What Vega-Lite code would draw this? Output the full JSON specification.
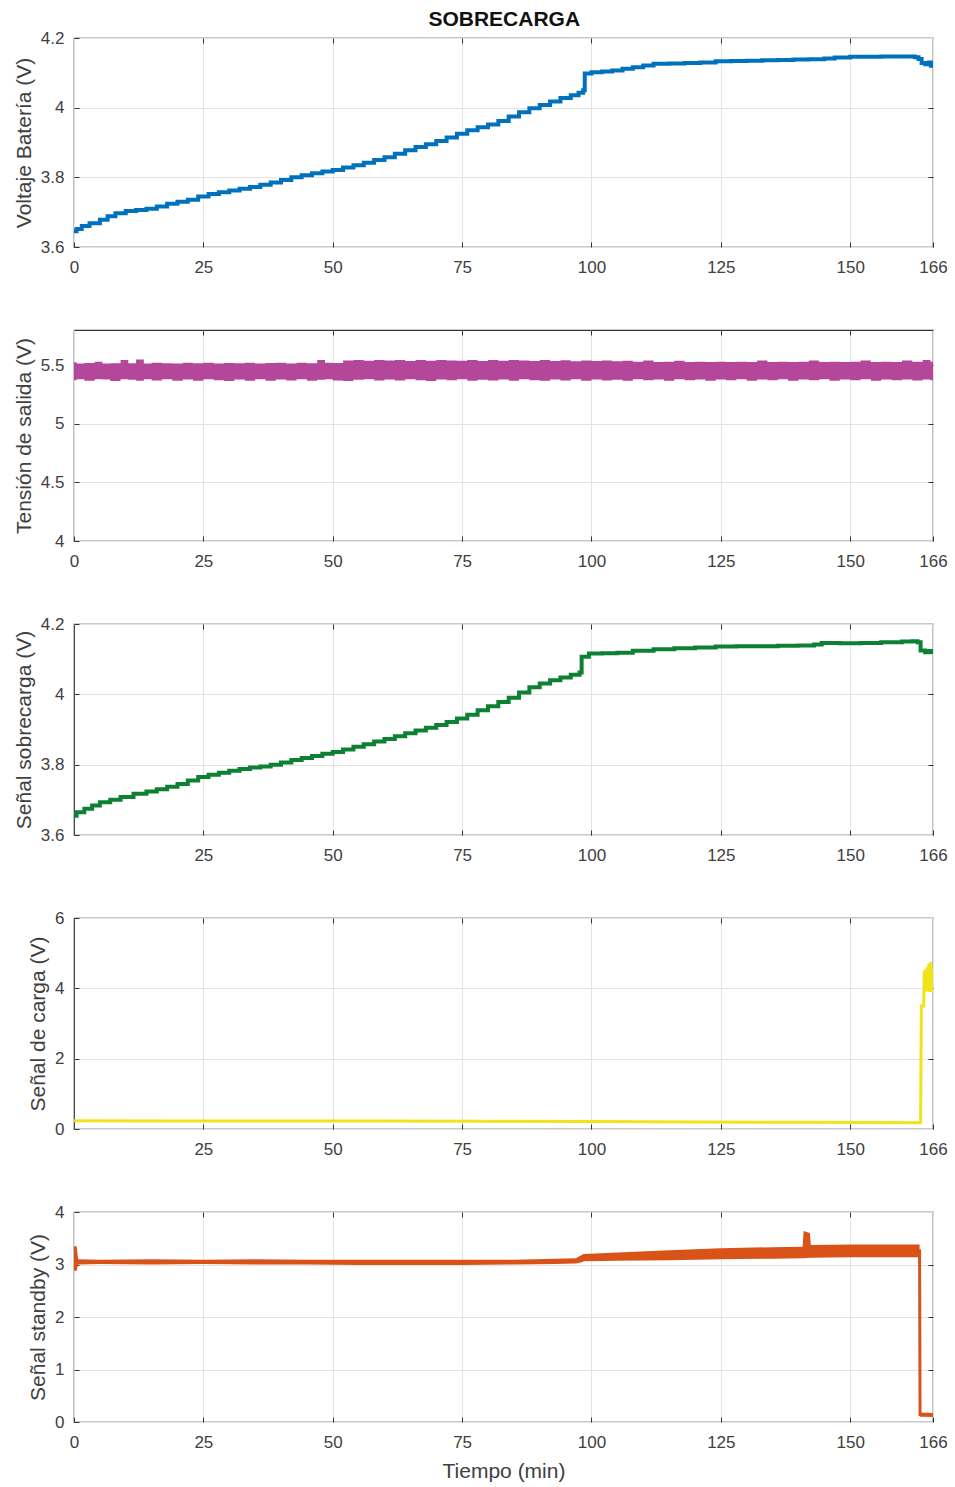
{
  "$schema": "https://vega.github.io/schema/vega-lite/v6.json",
  "padding": {"left": 12, "top": 9, "right": 5, "bottom": 5},
  "background": "white",
  "title": {"text": "SOBRECARGA", "fontSize": 21, "font": "Liberation Sans", "fontWeight": "bold", "anchor": "middle", "offset": -2, "dx": 24, "color": "#111111"},
  "config": {
    "view": {"stroke": "#333333", "strokeWidth": 1.2},
    "axis": {"labelFont": "Liberation Sans", "labelFontSize": 17, "labelColor": "#404040", "labelFlush": false, "titleFont": "Liberation Sans", "titleFontSize": 21, "titleFontWeight": "normal", "titleColor": "#404040", "gridColor": "#e3e3e3", "gridWidth": 1, "domain": false, "tickColor": "#333333", "tickSize": -5, "tickWidth": 1, "titlePadding": 6},
    "axisX": {"labelPadding": 17},
    "axisY": {"labelPadding": 15}
  },
  "datasets": {
    "bat": [
      {"t":0,"v":3.645},{"t":0.5,"v":3.652},{"t":1.5,"v":3.66},{"t":3,"v":3.668},{"t":5,"v":3.678},{"t":6.5,"v":3.688},{"t":8,"v":3.697},{"t":10,"v":3.703},{"t":12,"v":3.706},{"t":14,"v":3.71},{"t":16,"v":3.716},{"t":18,"v":3.724},{"t":20,"v":3.73},{"t":22,"v":3.736},{"t":24,"v":3.745},{"t":26,"v":3.752},{"t":28,"v":3.757},{"t":30,"v":3.762},{"t":32,"v":3.767},{"t":34,"v":3.772},{"t":36,"v":3.779},{"t":38,"v":3.785},{"t":40,"v":3.792},{"t":42,"v":3.8},{"t":44,"v":3.806},{"t":46,"v":3.812},{"t":48,"v":3.817},{"t":50,"v":3.821},{"t":52,"v":3.828},{"t":54,"v":3.835},{"t":56,"v":3.842},{"t":58,"v":3.85},{"t":60,"v":3.858},{"t":62,"v":3.868},{"t":64,"v":3.878},{"t":66,"v":3.887},{"t":68,"v":3.895},{"t":70,"v":3.904},{"t":72,"v":3.914},{"t":74,"v":3.925},{"t":76,"v":3.935},{"t":78,"v":3.944},{"t":80,"v":3.952},{"t":82,"v":3.962},{"t":84,"v":3.975},{"t":86,"v":3.987},{"t":88,"v":3.998},{"t":90,"v":4.008},{"t":92,"v":4.018},{"t":94,"v":4.028},{"t":96,"v":4.036},{"t":97.5,"v":4.043},{"t":98.4,"v":4.05},{"t":98.7,"v":4.098},{"t":100,"v":4.102},{"t":102,"v":4.104},{"t":104,"v":4.107},{"t":106,"v":4.112},{"t":108,"v":4.116},{"t":110,"v":4.121},{"t":112,"v":4.126},{"t":115,"v":4.127},{"t":118,"v":4.128},{"t":121,"v":4.13},{"t":124,"v":4.133},{"t":127,"v":4.134},{"t":130,"v":4.135},{"t":133,"v":4.136},{"t":136,"v":4.137},{"t":139,"v":4.138},{"t":142,"v":4.139},{"t":145,"v":4.141},{"t":147,"v":4.144},{"t":150,"v":4.146},{"t":153,"v":4.146},{"t":156,"v":4.147},{"t":159,"v":4.147},{"t":161,"v":4.147},{"t":162.5,"v":4.145},{"t":163.2,"v":4.14},{"t":163.8,"v":4.128},{"t":164.5,"v":4.125},{"t":165.2,"v":4.13},{"t":165.6,"v":4.12},{"t":166,"v":4.125}
    ],
    "out": [
      {"t":0,"lo":5.372,"hi":5.525},{"t":1,"lo":5.38,"hi":5.515},{"t":3,"lo":5.368,"hi":5.518},{"t":5,"lo":5.38,"hi":5.53},{"t":6,"lo":5.378,"hi":5.515},{"t":8,"lo":5.365,"hi":5.516},{"t":10,"lo":5.38,"hi":5.545},{"t":11,"lo":5.376,"hi":5.516},{"t":13,"lo":5.366,"hi":5.548},{"t":14,"lo":5.38,"hi":5.515},{"t":16,"lo":5.37,"hi":5.52},{"t":18,"lo":5.38,"hi":5.517},{"t":20,"lo":5.368,"hi":5.515},{"t":22,"lo":5.378,"hi":5.52},{"t":24,"lo":5.366,"hi":5.516},{"t":26,"lo":5.38,"hi":5.52},{"t":28,"lo":5.372,"hi":5.515},{"t":30,"lo":5.365,"hi":5.518},{"t":32,"lo":5.378,"hi":5.516},{"t":34,"lo":5.368,"hi":5.52},{"t":36,"lo":5.38,"hi":5.515},{"t":38,"lo":5.366,"hi":5.518},{"t":40,"lo":5.378,"hi":5.52},{"t":42,"lo":5.37,"hi":5.515},{"t":44,"lo":5.38,"hi":5.52},{"t":46,"lo":5.366,"hi":5.517},{"t":48,"lo":5.376,"hi":5.545},{"t":49,"lo":5.38,"hi":5.52},{"t":51,"lo":5.37,"hi":5.518},{"t":53,"lo":5.365,"hi":5.54},{"t":55,"lo":5.376,"hi":5.545},{"t":57,"lo":5.38,"hi":5.538},{"t":59,"lo":5.37,"hi":5.545},{"t":61,"lo":5.378,"hi":5.54},{"t":63,"lo":5.37,"hi":5.545},{"t":65,"lo":5.38,"hi":5.535},{"t":67,"lo":5.372,"hi":5.545},{"t":69,"lo":5.365,"hi":5.538},{"t":71,"lo":5.378,"hi":5.545},{"t":73,"lo":5.372,"hi":5.54},{"t":75,"lo":5.38,"hi":5.538},{"t":77,"lo":5.366,"hi":5.545},{"t":79,"lo":5.376,"hi":5.535},{"t":81,"lo":5.37,"hi":5.545},{"t":83,"lo":5.378,"hi":5.538},{"t":85,"lo":5.366,"hi":5.545},{"t":87,"lo":5.38,"hi":5.54},{"t":89,"lo":5.372,"hi":5.536},{"t":91,"lo":5.366,"hi":5.545},{"t":93,"lo":5.378,"hi":5.536},{"t":95,"lo":5.37,"hi":5.542},{"t":97,"lo":5.38,"hi":5.534},{"t":99,"lo":5.366,"hi":5.54},{"t":101,"lo":5.378,"hi":5.535},{"t":103,"lo":5.37,"hi":5.54},{"t":105,"lo":5.376,"hi":5.533},{"t":107,"lo":5.366,"hi":5.538},{"t":109,"lo":5.38,"hi":5.53},{"t":111,"lo":5.372,"hi":5.54},{"t":113,"lo":5.378,"hi":5.528},{"t":115,"lo":5.366,"hi":5.53},{"t":117,"lo":5.38,"hi":5.538},{"t":119,"lo":5.372,"hi":5.528},{"t":121,"lo":5.378,"hi":5.53},{"t":123,"lo":5.368,"hi":5.528},{"t":125,"lo":5.378,"hi":5.53},{"t":127,"lo":5.372,"hi":5.528},{"t":129,"lo":5.38,"hi":5.53},{"t":131,"lo":5.366,"hi":5.528},{"t":133,"lo":5.378,"hi":5.54},{"t":135,"lo":5.372,"hi":5.528},{"t":137,"lo":5.38,"hi":5.53},{"t":139,"lo":5.368,"hi":5.528},{"t":141,"lo":5.378,"hi":5.53},{"t":143,"lo":5.372,"hi":5.54},{"t":145,"lo":5.38,"hi":5.528},{"t":147,"lo":5.366,"hi":5.53},{"t":149,"lo":5.378,"hi":5.528},{"t":151,"lo":5.372,"hi":5.53},{"t":153,"lo":5.38,"hi":5.54},{"t":155,"lo":5.368,"hi":5.528},{"t":157,"lo":5.378,"hi":5.53},{"t":159,"lo":5.372,"hi":5.528},{"t":161,"lo":5.378,"hi":5.54},{"t":163,"lo":5.37,"hi":5.53},{"t":165,"lo":5.378,"hi":5.545},{"t":166,"lo":5.372,"hi":5.53}
    ],
    "sob": [
      {"t":0,"v":3.655},{"t":0.5,"v":3.665},{"t":2,"v":3.675},{"t":3.5,"v":3.684},{"t":5,"v":3.693},{"t":7,"v":3.7},{"t":9,"v":3.708},{"t":11.5,"v":3.717},{"t":14,"v":3.724},{"t":16,"v":3.73},{"t":18,"v":3.737},{"t":20,"v":3.745},{"t":22,"v":3.755},{"t":24,"v":3.765},{"t":26,"v":3.771},{"t":28,"v":3.777},{"t":30,"v":3.783},{"t":32,"v":3.788},{"t":34,"v":3.792},{"t":36,"v":3.795},{"t":38,"v":3.8},{"t":40,"v":3.806},{"t":42,"v":3.813},{"t":44,"v":3.819},{"t":46,"v":3.825},{"t":48,"v":3.831},{"t":50,"v":3.836},{"t":52,"v":3.843},{"t":54,"v":3.851},{"t":56,"v":3.858},{"t":58,"v":3.866},{"t":60,"v":3.873},{"t":62,"v":3.881},{"t":64,"v":3.889},{"t":66,"v":3.897},{"t":68,"v":3.905},{"t":70,"v":3.913},{"t":72,"v":3.921},{"t":74,"v":3.931},{"t":76,"v":3.942},{"t":78,"v":3.955},{"t":80,"v":3.966},{"t":82,"v":3.978},{"t":84,"v":3.99},{"t":86,"v":4.005},{"t":88,"v":4.02},{"t":90,"v":4.031},{"t":92,"v":4.04},{"t":94,"v":4.048},{"t":96,"v":4.056},{"t":97.7,"v":4.062},{"t":98.1,"v":4.107},{"t":99.5,"v":4.116},{"t":102,"v":4.117},{"t":105,"v":4.118},{"t":108,"v":4.124},{"t":112,"v":4.128},{"t":116,"v":4.131},{"t":120,"v":4.133},{"t":124,"v":4.136},{"t":128,"v":4.137},{"t":132,"v":4.137},{"t":136,"v":4.138},{"t":140,"v":4.139},{"t":143,"v":4.142},{"t":144.5,"v":4.146},{"t":148,"v":4.145},{"t":152,"v":4.146},{"t":156,"v":4.148},{"t":160,"v":4.15},{"t":162,"v":4.151},{"t":163,"v":4.148},{"t":163.6,"v":4.125},{"t":164.5,"v":4.12},{"t":165.3,"v":4.123},{"t":166,"v":4.115}
    ],
    "carga": [
      {"t":0,"v":0.235},{"t":20,"v":0.23},{"t":40,"v":0.23},{"t":60,"v":0.225},{"t":80,"v":0.22},{"t":100,"v":0.21},{"t":120,"v":0.2},{"t":140,"v":0.19},{"t":163.6,"v":0.18},{"t":163.75,"v":3.5},{"t":164.2,"v":3.5},{"t":164.3,"v":4.5},{"t":164.45,"v":3.9},{"t":164.6,"v":4.55},{"t":164.75,"v":3.92},{"t":164.9,"v":4.6},{"t":165.05,"v":3.95},{"t":165.2,"v":4.7},{"t":165.35,"v":3.9},{"t":165.5,"v":4.75},{"t":165.65,"v":3.95},{"t":165.8,"v":4.6},{"t":165.95,"v":3.9},{"t":166,"v":4.5}
    ],
    "stby": [
      {"t":0,"lo":2.88,"hi":3.35,"v":3.1},{"t":0.5,"lo":2.88,"hi":3.35,"v":3.05},{"t":0.8,"lo":3.0,"hi":3.1,"v":3.05},{"t":5,"lo":3.01,"hi":3.09,"v":3.05},{"t":15,"lo":3.0,"hi":3.1,"v":3.05},{"t":25,"lo":3.01,"hi":3.09,"v":3.05},{"t":35,"lo":3.0,"hi":3.1,"v":3.05},{"t":45,"lo":3.0,"hi":3.09,"v":3.045},{"t":55,"lo":2.99,"hi":3.09,"v":3.04},{"t":65,"lo":2.99,"hi":3.09,"v":3.04},{"t":75,"lo":2.99,"hi":3.09,"v":3.04},{"t":85,"lo":3.0,"hi":3.09,"v":3.045},{"t":93,"lo":3.01,"hi":3.11,"v":3.06},{"t":97,"lo":3.02,"hi":3.12,"v":3.07},{"t":98.3,"lo":3.05,"hi":3.19,"v":3.12},{"t":98.5,"lo":3.06,"hi":3.2,"v":3.13},{"t":105,"lo":3.07,"hi":3.23,"v":3.15},{"t":115,"lo":3.08,"hi":3.27,"v":3.17},{"t":125,"lo":3.1,"hi":3.31,"v":3.2},{"t":135,"lo":3.11,"hi":3.33,"v":3.22},{"t":140.8,"lo":3.12,"hi":3.34,"v":3.23},{"t":141,"lo":3.12,"hi":3.64,"v":3.23},{"t":142.2,"lo":3.13,"hi":3.6,"v":3.24},{"t":142.4,"lo":3.13,"hi":3.37,"v":3.24},{"t":150,"lo":3.14,"hi":3.38,"v":3.26},{"t":158,"lo":3.14,"hi":3.38,"v":3.26},{"t":163.4,"lo":3.14,"hi":3.38,"v":3.26},{"t":163.5,"lo":0.1,"hi":0.18,"v":0.14},{"t":166,"lo":0.1,"hi":0.17,"v":0.13}
    ]
  },
  "vconcat": [
    {
      "width": 859, "height": 209,
      "data": {"name": "bat"},
      "layer": [
        {"mark": {"type": "line", "color": "#0072BD", "strokeWidth": 4, "interpolate": "step-after", "clip": true},
         "encoding": {
           "x": {"field": "t", "type": "quantitative", "scale": {"domain": [0, 166], "nice": false, "zero": false}, "axis": {"values": [0,25,50,75,100,125,150,166], "title": null}},
           "y": {"field": "v", "type": "quantitative", "scale": {"domain": [3.6, 4.2], "nice": false, "zero": false}, "axis": {"values": [3.6,3.8,4,4.2], "format": "~g", "title": "Voltaje Batería (V)"}}
         }},
        {"mark": {"type": "line", "opacity": 0},
         "encoding": {
           "x": {"field": "t", "type": "quantitative", "axis": {"orient": "top", "values": [25,50,75,100,125,150], "labels": false, "grid": false, "title": null}},
           "y": {"field": "v", "type": "quantitative", "axis": {"orient": "right", "values": [3.8,4], "labels": false, "grid": false, "title": null}}
         }}
      ],
      "resolve": {"axis": {"x": "independent", "y": "independent"}}
    },
    {
      "width": 859, "height": 211,
      "data": {"name": "out"},
      "layer": [
        {"mark": {"type": "area", "color": "#B4479A", "interpolate": "step", "clip": true},
         "encoding": {
           "x": {"field": "t", "type": "quantitative", "scale": {"domain": [0, 166], "nice": false, "zero": false}, "axis": {"values": [0,25,50,75,100,125,150,166], "title": null}},
           "y": {"field": "hi", "type": "quantitative", "scale": {"domain": [4, 5.8], "nice": false, "zero": false}, "axis": {"values": [4,4.5,5,5.5], "format": "~g", "title": "Tensión de salida (V)"}},
           "y2": {"field": "lo"}
         }},
        {"mark": {"type": "line", "opacity": 0},
         "encoding": {
           "x": {"field": "t", "type": "quantitative", "axis": {"orient": "top", "values": [25,50,75,100,125,150], "labels": false, "grid": false, "title": null}},
           "y": {"field": "hi", "type": "quantitative", "axis": {"orient": "right", "values": [4.5,5,5.5], "labels": false, "grid": false, "title": null}}
         }}
      ],
      "resolve": {"axis": {"x": "independent", "y": "independent"}}
    },
    {
      "width": 859, "height": 211,
      "data": {"name": "sob"},
      "layer": [
        {"mark": {"type": "line", "color": "#0E8034", "strokeWidth": 4, "interpolate": "step-after", "clip": true},
         "encoding": {
           "x": {"field": "t", "type": "quantitative", "scale": {"domain": [0, 166], "nice": false, "zero": false}, "axis": {"values": [25,50,75,100,125,150,166], "title": null}},
           "y": {"field": "v", "type": "quantitative", "scale": {"domain": [3.6, 4.2], "nice": false, "zero": false}, "axis": {"values": [3.6,3.8,4,4.2], "format": "~g", "title": "Señal sobrecarga (V)"}}
         }},
        {"mark": {"type": "line", "opacity": 0},
         "encoding": {
           "x": {"field": "t", "type": "quantitative", "axis": {"orient": "top", "values": [25,50,75,100,125,150], "labels": false, "grid": false, "title": null}},
           "y": {"field": "v", "type": "quantitative", "axis": {"orient": "right", "values": [3.8,4], "labels": false, "grid": false, "title": null}}
         }}
      ],
      "resolve": {"axis": {"x": "independent", "y": "independent"}}
    },
    {
      "width": 859, "height": 211,
      "data": {"name": "carga"},
      "layer": [
        {"mark": {"type": "line", "color": "#F0E31A", "strokeWidth": 3, "clip": true},
         "encoding": {
           "x": {"field": "t", "type": "quantitative", "scale": {"domain": [0, 166], "nice": false, "zero": false}, "axis": {"values": [25,50,75,100,125,150,166], "title": null}},
           "y": {"field": "v", "type": "quantitative", "scale": {"domain": [0, 6], "nice": false, "zero": false}, "axis": {"values": [0,2,4,6], "format": "~g", "title": "Señal de carga (V)"}}
         }},
        {"mark": {"type": "line", "opacity": 0},
         "encoding": {
           "x": {"field": "t", "type": "quantitative", "axis": {"orient": "top", "values": [25,50,75,100,125,150], "labels": false, "grid": false, "title": null}},
           "y": {"field": "v", "type": "quantitative", "axis": {"orient": "right", "values": [2,4], "labels": false, "grid": false, "title": null}}
         }}
      ],
      "resolve": {"axis": {"x": "independent", "y": "independent"}}
    },
    {
      "width": 859, "height": 210,
      "data": {"name": "stby"},
      "layer": [
        {"mark": {"type": "area", "color": "#D95319", "clip": true},
         "encoding": {
           "x": {"field": "t", "type": "quantitative", "scale": {"domain": [0, 166], "nice": false, "zero": false}, "axis": {"values": [0,25,50,75,100,125,150,166], "title": "Tiempo (min)", "titlePadding": 10}},
           "y": {"field": "hi", "type": "quantitative", "scale": {"domain": [0, 4], "nice": false, "zero": false}, "axis": {"values": [0,1,2,3,4], "format": "~g", "title": "Señal standby (V)"}},
           "y2": {"field": "lo"}
         }},
        {"mark": {"type": "line", "color": "#D95319", "strokeWidth": 3, "clip": true},
         "encoding": {
           "x": {"field": "t", "type": "quantitative", "axis": {"orient": "top", "values": [25,50,75,100,125,150], "labels": false, "grid": false, "title": null}},
           "y": {"field": "v", "type": "quantitative", "axis": {"orient": "right", "values": [1,2,3], "labels": false, "grid": false, "title": null}}
         }}
      ],
      "resolve": {"axis": {"x": "independent", "y": "independent"}}
    }
  ],
  "spacing": 83,
  "bounds": "flush"
}
